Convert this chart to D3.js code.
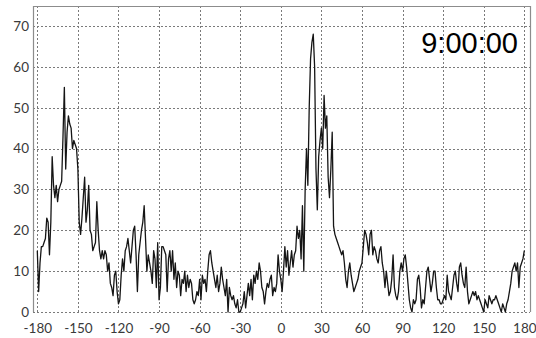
<!DOCTYPE html>
<html>
<head>
<meta charset="utf-8">
<script src="https://cdn.jsdelivr.net/npm/d3@7"></script>
<style>
  body { margin: 0; background: #fff; }
  svg { display: block; }
</style>
</head>
<body>
<svg id="chart" width="536" height="338"></svg>
<script>
// counts per degree, -180 .. 180, one row per 30 degrees
const counts = [
  15,5,12,16,16,17,18,23,22,14,22,38,31,28,31,27,30,31,32,43,55,35,44,48,46,45,40,42,41,40,
  35,22,19,23,28,33,22,25,31,20,19,15,16,17,27,20,15,13,15,13,15,14,10,12,7,6,4,9,10,5,
  2,3,9,13,10,15,16,18,15,12,16,20,21,14,5,14,17,20,22,26,18,10,14,12,10,7,15,13,6,17,
  3,6,16,16,15,14,5,13,15,10,15,8,12,6,10,9,4,8,7,10,5,9,6,8,7,3,2,3,5,4,
  8,3,9,7,8,5,10,14,15,12,10,8,6,9,5,7,11,8,6,4,8,0,6,4,3,4,2,1,3,0,
  0,1,2,5,1,4,7,4,8,3,9,7,10,8,12,10,6,5,2,5,7,6,8,9,4,6,5,7,14,10,
  8,5,10,16,11,15,9,12,15,11,14,15,21,18,20,13,26,10,30,40,31,50,62,66,68,60,35,25,38,42,
  45,40,53,45,48,33,28,35,44,21,19,18,17,16,15,14,15,12,8,6,10,12,9,7,5,6,7,8,10,11,
  12,16,20,19,17,14,19,20,14,16,15,13,12,15,16,12,10,6,10,7,4,5,8,14,6,4,3,5,10,12,
  10,13,14,11,7,3,1,0,3,2,3,8,9,6,1,3,2,6,10,11,8,5,7,10,10,6,3,3,2,2,
  3,4,3,9,5,4,3,6,9,10,7,5,11,12,9,7,6,11,5,2,3,4,5,4,5,3,4,3,2,1,
  0,3,2,1,4,3,2,3,3,4,3,2,1,0,2,1,0,2,3,5,7,10,11,12,10,12,6,11,12,13,15
];
const angles = d3.range(-180, 181);
const xTicks = [-180, -150, -120, -90, -60, -30, 0, 30, 60, 90, 120, 150, 180];
const yTicks = [0, 10, 20, 30, 40, 50, 60, 70];
const timeLabel = "9:00:00";

const svg = d3.select("#chart");
const frame = { left: 33, right: 530, top: 6, bottom: 312 };

const x = d3.scaleLinear().domain([-180, 180]).range([37.3, 524.3]);
const y = d3.scaleLinear().domain([0, 70]).range([312, 26]);

// grid
const grid = svg.append("g")
  .attr("stroke", "#7a7a7a")
  .attr("stroke-width", 1)
  .attr("stroke-dasharray", "2,2");

grid.selectAll(".vg")
  .data(xTicks)
  .join("line")
  .attr("x1", d => Math.round(x(d)) + 0.5)
  .attr("x2", d => Math.round(x(d)) + 0.5)
  .attr("y1", frame.top)
  .attr("y2", frame.bottom);

grid.selectAll(".hg")
  .data(yTicks)
  .join("line")
  .attr("x1", frame.left)
  .attr("x2", frame.right)
  .attr("y1", d => Math.round(y(d)) + 0.5)
  .attr("y2", d => Math.round(y(d)) + 0.5);

// frame (left, top, right)
svg.append("path")
  .attr("d", `M${frame.left + 0.5},${frame.bottom}V${frame.top + 0.5}H${frame.right + 0.5}V${frame.bottom}`)
  .attr("fill", "none")
  .attr("stroke", "#8c8c8c")
  .attr("stroke-width", 1.2);

// axes
const xAxis = svg.append("g")
  .attr("transform", `translate(0,${frame.bottom})`)
  .call(d3.axisBottom(x).tickValues(xTicks).tickSize(0).tickPadding(11).tickFormat(d => String(d)));

const yAxis = svg.append("g")
  .attr("transform", `translate(${frame.left},0)`)
  .call(d3.axisLeft(y).tickValues(yTicks).tickSize(0).tickPadding(4).tickFormat(d => String(d)));

[xAxis, yAxis].forEach(a => {
  a.select(".domain").remove();
  a.selectAll("text")
    .attr("fill", "#3a3a3a")
    .style("font-family", "Lato, 'Open Sans', sans-serif")
    .style("font-size", "13.5px");
});

// series
const line = d3.line()
  .x((d, i) => x(angles[i]))
  .y(d => y(d));

svg.append("path")
  .datum(counts)
  .attr("fill", "none")
  .attr("stroke", "#151515")
  .attr("stroke-width", 1.3)
  .attr("stroke-linejoin", "round")
  .attr("d", line);

// time label
svg.append("text")
  .attr("x", 518)
  .attr("y", 53)
  .attr("text-anchor", "end")
  .style("font-family", "'Liberation Sans', Arial, sans-serif")
  .style("font-size", "29px")
  .attr("fill", "#000")
  .text(timeLabel);
</script>
</body>
</html>
